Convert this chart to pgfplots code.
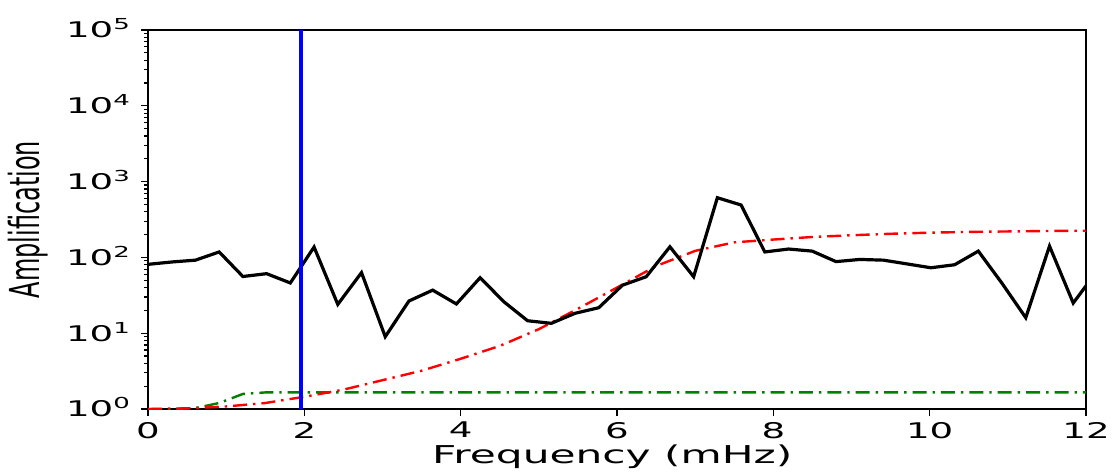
\documentclass[border=0pt]{standalone}
\usepackage{pgfplots}
\pgfplotsset{compat=1.18}
\usepackage{fontspec}
\setmainfont{DejaVu Sans}
\usepackage{graphicx}
\newcommand\sx[1]{\scalebox{1.72}[1]{#1}}
\definecolor{mgreen}{rgb}{0,0.5,0}
\begin{document}
\begin{tikzpicture}
\begin{axis}[
  scale only axis, width=469pt, height=189.5pt,
  at={(0,0)}, anchor=south west,
  xmin=0, xmax=12, ymode=log, ymin=1, ymax=1e5,
  xtick={0,2,4,6,8,10,12},
  xticklabels={\sx{0},\sx{2},\sx{4},\sx{6},\sx{8},\sx{10},\sx{12}},
  ytick={1,10,100,1000,10000,100000},
  yticklabels={\sx{10\textsuperscript{0}},\sx{10\textsuperscript{1}},\sx{10\textsuperscript{2}},\sx{10\textsuperscript{3}},\sx{10\textsuperscript{4}},\sx{10\textsuperscript{5}}},
  tick align=outside, xtick pos=bottom, ytick pos=left,
  major tick length=3.5pt, minor tick length=2pt,
  axis line style={line width=0.75pt},
  tick style={black, line width=0.6pt},
  tick label style={font=\fontsize{10.8pt}{12pt}\selectfont},
  xticklabel style={anchor=north, inner sep=0pt, yshift=-2.8pt},
  yticklabel style={anchor=base east, inner sep=0pt, xshift=-4.5pt, yshift=-3.9pt},
  xlabel={\sx{Frequency (mHz)}},
  xlabel style={font=\fontsize{12.3pt}{14pt}\selectfont, at={(axis description cs:0.495,-0.1450)}, anchor=base, inner sep=0pt},
  ylabel={\scalebox{1}[1.72]{Amplification}},
  ylabel style={font=\fontsize{12pt}{14pt}\selectfont, at={(axis description cs:-0.128,0.5)}, anchor=center, inner sep=0pt},
]
% green dash-dot
\addplot[mgreen, line width=1.2pt, dash pattern=on 7pt off 3pt on 1.2pt off 3pt] coordinates {
(0,1) (0.3035,1) (0.607,1.03) (0.9105,1.2) (1.214,1.58) (1.5175,1.66) (1.821,1.66) (3,1.66) (5,1.66) (7,1.66) (9,1.66) (11,1.66) (12.14,1.66)};
% red dash-dot
\addplot[red, line width=1.2pt, dash pattern=on 7pt off 3pt on 1.2pt off 3pt] coordinates {
(0,1.0) (0.5,1.02) (1,1.08) (1.5,1.2) (2,1.45) (2.5,1.8) (3,2.4) (3.5,3.2) (4,4.6) (4.5,6.8) (5,11.3) (5.5,21) (6,40) (6.5,77) (7,122) (7.5,158) (8,172) (8.5,186) (9,196) (9.5,205) (10,212) (10.5,217) (11,220) (11.5,223) (12,225)};
% black
\addplot[black, line width=1.6pt] coordinates {
(0,81) (0.3035,87) (0.607,92) (0.9105,118) (1.214,56) (1.5175,61) (1.821,46) (2.1245,137) (2.428,24) (2.7315,63) (3.035,9.0) (3.3385,26.6) (3.642,37) (3.9455,24.3) (4.249,54) (4.5525,26) (4.856,14.6) (5.1595,13.5) (5.463,18.3) (5.7665,21.7) (6.07,43) (6.3735,55.6) (6.677,138) (6.9805,55.6) (7.284,613) (7.5875,491) (7.891,118) (8.1945,129) (8.498,121) (8.8015,88) (9.105,94) (9.4085,92) (9.712,82) (10.0155,73) (10.319,80) (10.6225,121) (10.926,45.5) (11.2295,16) (11.533,141) (11.8365,25) (12.14,66)};
% blue vertical
\addplot[blue, line width=1.8pt] coordinates {(1.957,1) (1.957,100000)};
\end{axis}
\path (-74pt,-32pt) rectangle (482.5pt,204.5pt);
\end{tikzpicture}
\end{document}
